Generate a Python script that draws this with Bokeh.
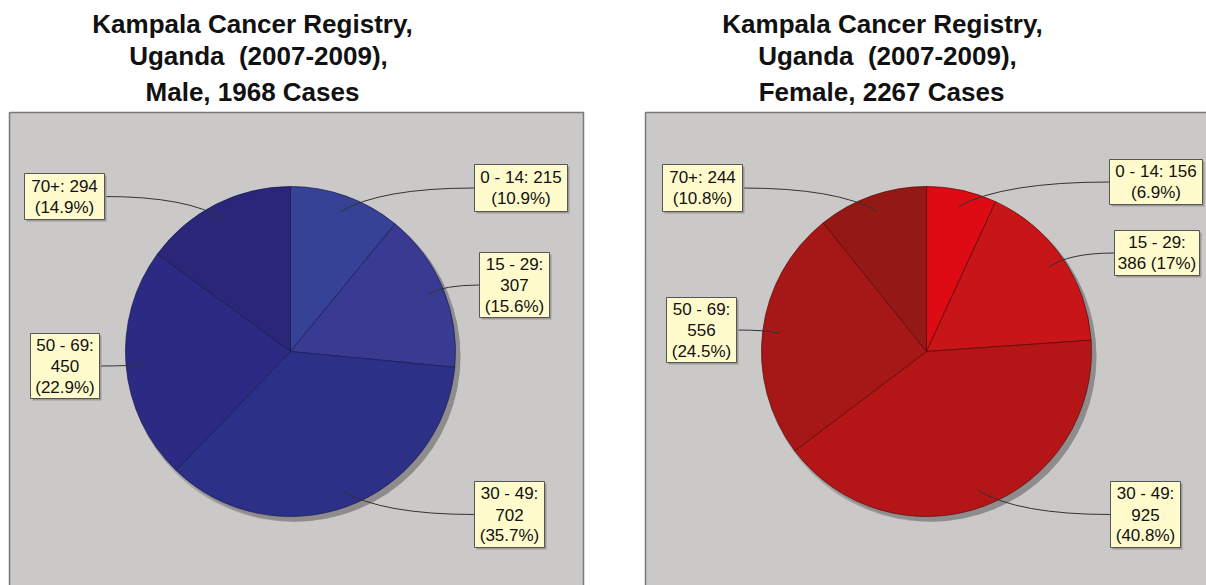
import math
from bokeh.plotting import figure
from bokeh.models import Range1d, ColumnDataSource
from bokeh.embed import file_html
from bokeh.resources import INLINE
from bokeh.core.properties import value

# ---------------- data ----------------
categories = ["0 - 14", "15 - 29", "30 - 49", "50 - 69", "70+"]
male_cases = [215, 307, 702, 450, 294]
female_cases = [156, 386, 925, 556, 244]
title_male = ["Kampala Cancer Registry,", "Uganda  (2007-2009),", "Male, 1968 Cases"]
title_female = ["Kampala Cancer Registry,", "Uganda  (2007-2009),", "Female, 2267 Cases"]

# ---------------- styles ----------------
male_colors = ["#364296", "#393a91", "#2c3187", "#2d2a83", "#2a2678"]
female_colors = ["#de0a14", "#c81618", "#b41618", "#a61818", "#941814"]
PANEL_BG = "#cbc8c8"
PANEL_BORDER = "#7a7878"
LABEL_BG = "#fffbcc"
LABEL_BORDER = "#555555"
SHADOW = "#8e8c8c"
FONT = "Liberation Sans"

W, H = 1206, 585


def fx(X):
    return X


def fy(Y):
    return H - Y


# ---------------- layout (page pixels) ----------------
panels = [
    dict(values=male_cases, colors=male_colors, edge="#1c1c55", cx=290, cy=351, r=165,
         box=(9, 112, 583, 620), title=title_male, title_x=[252, 258, 252],
         labels=[(474, 164, 567, 211, "2"), (479, 252, 549, 317, "3"),
                 (474, 481, 544, 547, "3"), (30, 333, 99, 398, "3"),
                 (24, 173, 104, 219, "2")]),
    dict(values=female_cases, colors=female_colors, edge="#5a0a0a", cx=926, cy=351, r=165,
         box=(645, 112, 1240, 620), title=title_female, title_x=[882, 887, 881],
         labels=[(1109, 159, 1202, 204, "2"), (1114, 230, 1199, 275, "2b"),
                 (1110, 481, 1180, 547, "3"), (666, 297, 736, 362, "3"),
                 (662, 164, 742, 211, "2")]),
]
title_mid = [23.5, 55.5, 91]

p = figure(width=W, height=H, x_range=Range1d(0, W), y_range=Range1d(0, H),
           output_backend="svg", toolbar_location=None, min_border=0,
           x_axis_type=None, y_axis_type=None)
p.grid.visible = False
p.outline_line_color = None
p.background_fill_color = "white"
p.border_fill_color = "white"


def fmt_pct(v):
    s = f"{v:.1f}"
    if s.endswith(".0"):
        s = s[:-2]
    return s + "%"


for pan in panels:
    vals = pan["values"]
    total = sum(vals)
    # panel background
    bx0, by0, bx1, by1 = pan["box"]
    p.quad(left=fx(bx0), right=fx(bx1), top=fy(by0), bottom=fy(by1),
           fill_color=PANEL_BG, line_color=PANEL_BORDER, line_width=1.5)
    # title
    for line, tx, ty in zip(pan["title"], pan["title_x"], title_mid):
        p.text(x=[fx(tx)], y=[fy(ty)], text=[line.replace("  ", " \u00a0")],
               text_font=value(FONT),
               text_font_size="26px", text_font_style="bold", text_color="#111111",
               text_align="center", text_baseline="middle")
    cx, cy, r = fx(pan["cx"]), fy(pan["cy"]), pan["r"]
    # pie shadow
    p.circle(x=[cx + 3], y=[cy - 4], radius=r + 1.5, fill_color=SHADOW, fill_alpha=0.6,
             line_color=None)
    p.circle(x=[cx + 5], y=[cy - 5], radius=r, fill_color=SHADOW, line_color=None)
    # slices
    cum = 0.0
    starts, ends, mids = [], [], []
    for v in vals:
        t1 = cum / total * 2 * math.pi
        cum += v
        t2 = cum / total * 2 * math.pi
        starts.append(math.pi / 2 - t2)
        ends.append(math.pi / 2 - t1)
        mids.append((t1 + t2) / 2)
    src = ColumnDataSource(dict(start=starts, end=ends, color=pan["colors"]))
    p.wedge(x=cx, y=cy, radius=r, start_angle="start", end_angle="end",
            direction="anticlock", fill_color="color", line_color=pan["edge"],
            line_width=0.8, line_alpha=0.9, source=src)
    # labels
    for cat, v, th, lab in zip(categories, vals, mids, pan["labels"]):
        lx0, ly0, lx1, ly1, wrap = lab
        pct = fmt_pct(v / total * 100)
        if wrap == "2":
            lines = [f"{cat}: {v}", f"({pct})"]
        elif wrap == "2b":
            lines = [f"{cat}:", f"{v} ({pct})"]
        else:
            lines = [f"{cat}:", f"{v}", f"({pct})"]
        ax = cx + 0.9 * r * math.sin(th)
        ay = cy + 0.9 * r * math.cos(th)
        lcx = (lx0 + lx1) / 2
        lcy = (ly0 + ly1) / 2
        sx = fx(lx0) if lcx > pan["cx"] else fx(lx1)
        sy = fy(lcy)
        ctrl_x = ax + 0.3 * (sx - ax)
        p.quadratic(x0=[sx], y0=[sy], x1=[ax], y1=[ay], cx=[ctrl_x], cy=[sy],
                    line_color="#333333", line_width=1)
        # box shadow + box
        p.quad(left=fx(lx0) + 2, right=fx(lx1) + 2, top=fy(ly0) - 2, bottom=fy(ly1) - 2,
               fill_color="#9a9898", line_color=None)
        p.quad(left=fx(lx0), right=fx(lx1), top=fy(ly0), bottom=fy(ly1),
               fill_color=LABEL_BG, line_color=LABEL_BORDER, line_width=1)
        n = len(lines)
        for i, s in enumerate(lines):
            yy = lcy + 21 * (i - (n - 1) / 2)
            p.text(x=[fx(lcx)], y=[fy(yy)], text=[s], text_font=value(FONT),
                   text_font_size="17px", text_color="#111111", text_align="center",
                   text_baseline="middle")

open("out.html", "w").write(file_html(p, INLINE))
